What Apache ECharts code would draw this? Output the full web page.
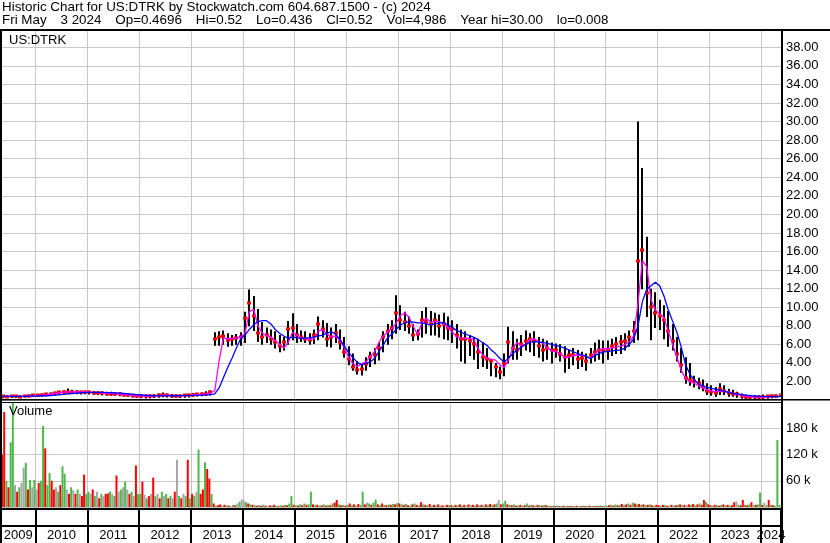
<!DOCTYPE html>
<html><head><meta charset="utf-8">
<script src="https://cdn.jsdelivr.net/npm/echarts@6/dist/echarts.min.js"></script>
<style>html,body{margin:0;padding:0;background:#fff}#c{width:830px;height:543px}</style>
</head><body><div id="c"></div>
<script>
const FONT = '"Liberation Sans", Arial, sans-serif';
// monthly series start: May 2009
const startYear = 2009, startMonth = 5;
const years = [2009,2010,2011,2012,2013,2014,2015,2016,2017,2018,2019,2020,2021,2022,2023,2024];

const high = [
 .55,.50,.52,.48,.50,.55,.60,.62,
 .65,.70,.72,.80,.90,.95,1.05,1.25,1.10,1.05,1.00,1.02,
 1.00,.98,.95,.92,.90,.88,.85,.80,.75,.70,.65,.60,
 .58,.55,.60,.62,.70,.82,.70,.65,.62,.60,.65,.68,
 .75,.72,.80,.95,1.05,7.3,7.4,7.5,7.2,7.0,7.1,7.3,
 9.5,11.9,11.2,9.8,8.4,7.8,7.6,7.4,7.0,6.8,8.5,9.35,
 8.2,7.5,7.4,7.2,7.6,9.0,8.6,8.3,7.8,8.2,7.6,6.8,
 5.8,5.0,4.2,4.0,4.6,5.2,5.6,6.2,7.4,8.2,8.6,11.3,
 10.2,9.5,9.0,8.2,7.6,9.6,10.0,9.6,9.4,9.2,9.4,9.0,
 8.6,8.2,7.6,7.4,7.0,6.8,6.6,6.2,5.6,4.4,4.0,3.6,
 5.0,7.9,7.4,6.6,7.0,7.5,7.2,7.4,6.8,6.6,6.4,6.2,
 6.1,6.0,5.8,5.4,5.6,5.4,5.2,5.0,5.6,6.2,6.5,6.4,
 6.4,6.6,6.8,7.0,7.2,7.5,8.5,30.0,25.0,17.6,12.0,11.6,
 10.8,10.2,9.6,8.2,6.8,5.6,4.6,4.0,2.6,2.4,2.2,1.8,
 1.6,1.4,1.8,1.6,1.2,1.1,0.9,0.7,0.6,0.55,0.5,0.5,
 0.6,0.55,0.6,0.6,0.52
];
const low = [
 .25,.28,.30,.26,.30,.32,.35,.38,
 .40,.42,.45,.50,.55,.62,.70,.72,.70,.68,.66,.68,
 .65,.62,.60,.55,.55,.52,.50,.45,.42,.40,.35,.30,
 .25,.22,.25,.28,.30,.35,.32,.30,.30,.28,.30,.32,
 .40,.42,.45,.50,.55,5.9,5.9,6.0,5.8,5.9,6.0,5.9,
 6.2,8.0,7.5,6.3,6.0,6.2,6.0,5.6,5.2,5.4,6.0,6.5,
 6.2,6.3,6.2,6.0,6.1,6.5,6.8,5.8,5.7,6.2,5.5,4.6,
 3.8,3.2,2.8,2.7,3.2,3.6,3.9,4.3,5.2,6.0,6.6,7.2,
 7.6,7.5,7.2,6.4,6.5,6.8,7.2,7.0,7.0,6.8,6.6,6.5,
 6.2,5.6,4.2,4.0,4.8,4.4,3.4,3.6,3.4,2.6,2.5,2.3,
 2.6,4.0,4.4,4.4,4.8,5.4,5.2,4.8,4.6,4.2,4.4,4.0,
 4.6,4.2,3.0,3.4,3.8,3.4,3.6,3.2,4.0,4.2,4.4,4.0,
 4.4,4.8,5.0,5.0,5.4,5.8,6.2,6.5,12.0,9.0,6.5,7.8,
 7.6,6.6,5.8,5.4,4.2,3.0,1.8,1.6,1.4,1.2,1.0,0.6,
 0.5,0.4,0.6,0.6,0.4,0.4,0.3,0.2,0.15,0.15,0.1,0.1,
 0.15,0.2,0.25,0.3,0.436
];
const close = [
 .40,.35,.42,.38,.36,.45,.48,.50,
 .52,.55,.60,.66,.75,.82,.88,.90,.85,.88,.84,.86,
 .84,.80,.78,.72,.70,.68,.64,.60,.55,.50,.45,.42,
 .40,.38,.42,.45,.50,.55,.50,.48,.46,.45,.50,.52,
 .58,.60,.62,.70,.82,6.6,6.8,6.9,6.5,6.6,6.7,6.8,
 8.8,10.5,9.0,7.2,6.8,7.0,6.6,6.2,5.8,6.2,7.6,7.8,
 7.0,6.8,6.6,6.5,7.0,8.2,7.6,6.6,6.8,7.2,6.2,5.2,
 4.4,3.6,3.2,3.3,3.9,4.6,4.8,5.6,6.8,7.4,7.8,9.4,
 8.6,8.4,8.0,7.0,7.1,8.6,8.4,8.2,8.6,8.0,8.2,7.8,
 7.6,7.0,6.6,6.6,6.4,6.0,5.2,4.6,4.4,4.2,3.6,3.0,
 4.0,6.2,5.6,5.4,6.0,6.4,6.6,6.4,5.8,5.4,5.6,5.4,
 5.4,5.0,4.6,4.8,4.8,4.4,4.5,4.2,4.8,5.2,5.4,5.4,
 5.4,5.8,6.0,6.2,6.4,6.8,7.4,15.0,16.2,11.5,10.0,9.4,
 9.0,8.6,7.4,6.4,5.0,3.8,2.4,2.2,2.0,1.8,1.4,1.0,
 0.9,0.8,1.2,1.0,0.8,0.7,0.6,0.45,0.35,0.3,0.3,0.3,
 0.35,0.4,0.45,0.45,0.52
];
const maFast = [
 .40,.38,.38,.39,.38,.40,.44,.47,
 .50,.53,.57,.62,.70,.78,.84,.88,.87,.86,.86,.86,
 .85,.82,.79,.75,.72,.69,.66,.62,.57,.52,.48,.44,
 .42,.40,.40,.43,.47,.51,.51,.49,.47,.46,.48,.50,
 .55,.58,.60,.66,.75,1.0,4.2,6.7,6.6,6.6,6.7,6.8,
 7.2,9.5,9.8,8.0,7.2,6.9,6.8,6.4,6.0,5.6,6.2,7.3,
 7.0,6.7,6.6,6.5,6.6,7.4,7.6,7.1,6.8,6.9,6.4,5.6,
 4.6,3.9,3.6,3.9,4.1,4.7,5.2,6.2,6.9,7.3,7.7,8.3,
 9.1,9.4,8.9,7.9,7.0,8.4,8.8,8.4,8.45,8.45,8.2,7.8,
 7.3,6.8,6.7,6.65,6.65,6.5,5.5,4.9,4.5,4.4,4.3,3.8,
 3.5,4.3,5.6,6.2,5.8,6.0,6.5,6.6,6.3,6.1,5.6,5.3,
 5.2,5.0,4.6,4.6,4.8,4.85,4.8,4.7,4.5,5.0,5.4,5.5,
 5.55,5.6,5.7,5.8,6.0,6.3,6.9,10.5,15.0,14.4,10.8,9.7,
 9.3,8.9,7.4,6.0,4.6,3.2,2.3,2.0,1.8,1.55,1.3,1.1,
 .95,.9,.95,.95,.85,.7,.6,.48,.4,.35,.32,.3,
 .3,.32,.36,.4,.42
];
const maSlow = [
 .42,.41,.40,.40,.40,.40,.41,.42,
 .43,.44,.46,.48,.52,.56,.60,.65,.70,.74,.78,.80,
 .82,.83,.83,.82,.80,.78,.76,.73,.70,.66,.62,.58,
 .54,.51,.48,.46,.45,.45,.45,.46,.46,.47,.47,.48,
 .49,.50,.52,.55,.58,.65,1.3,2.4,3.5,4.5,5.6,6.6,
 7.0,7.6,8.1,8.45,8.55,8.55,8.2,7.6,7.2,6.9,6.65,6.8,
 6.7,6.65,6.7,6.7,6.8,6.9,7.0,7.2,7.35,7.1,6.5,5.8,
 5.1,4.55,4.05,3.8,3.95,4.1,4.5,5.2,5.9,6.7,7.1,7.6,
 8.1,8.3,8.45,8.4,8.3,8.3,8.2,8.1,8.2,8.3,8.3,8.1,
 7.8,7.5,7.3,7.1,6.95,6.75,6.5,6.2,5.9,5.4,5.0,4.5,
 4.1,4.5,5.0,5.35,5.7,6.0,6.2,6.3,6.25,6.2,6.1,6.0,
 5.85,5.75,5.6,5.4,5.2,5.0,4.85,4.7,4.45,4.8,5.0,5.2,
 5.25,5.3,5.35,5.4,5.6,6.0,6.6,8.0,10.6,11.9,12.3,12.7,
 12.3,11.2,9.7,8.5,7.3,5.7,3.8,2.8,2.15,1.75,1.5,1.35,
 1.25,1.15,1.05,.95,.8,.72,.65,.58,.52,.47,.43,.4,
 .38,.37,.36,.36,.36
];
// half-monthly volume in thousands; first letter = r (down), g (up), s (unchanged)
const volume = [
 'r120','r217','g60','r45','g148','g260','s50','r35','g45','s55','s90','g101','r40','g62','s45','g62',
 's40','r55','g60','g185','r134','g50','g78','r60','r40','s45','g35','r50','g93','g76','s40','r30','g45','s38','r30','g40','s30','r25','r74','g30',
 'g35','s30','r40','g25','s35','r20','g30','s25','r30','r31','g35','s30','g25','r72','s35','g40','s45','g58','s40','r30','g35','s25','r95','g30',
 'g30','r58','s28','g20','r25','s30','r67','g25','s30','r20','g35','s25','g30','r20','g25','s20','r35','s108','g25','r20','s30','g25','r108','g20',
 'r30','g25','s35','g131','r30','r40','g102','r87','r65','g30','r8','g3','r4','r6','g3','r5','g4','r3','s2','g5','r4','s8','g12','s17',
 's15','g11','r8','g6','r5','g4','r3','g4','r3','g5','r3','s2','r4','g3','r5','g3','r2','g4','r3','g5','r4','g8','g25','r5',
 'g4','r3','g6','r4','g8','r5','g6','g35','r6','g4','r5','g3','r4','g6','r3','g5','r4','g8','r10','r16','g6','r4','g5','r3',
 'g5','r8','g4','r6','g3','r7','g5','g35','r6','s10','g8','r5','g10','g17','r6','g4','r8','g5','r4','g6','r5','g7','r6','g9',
 'r8','g6','r5','g7','r4','g3','r6','g8','r5','g4','r11','g6','r5','g4','r7','g3','r5','g4','r6','g3','r4','s3','r5','g4',
 'r4','g3','r5','g4','r6','g3','r5','s4','r6','g4','r5','g3','r6','g4','r5','g3','r6','g4','r7','g5','r6','g8','s16','r6',
 'g8','g14','r6','g5','r4','g6','r3','g4','r5','g3','r4','g8','r3','g5','r4','g3','r5','g4','r3','g5','r4','g3','r2','g3',
 'r2','g3','r2','g2','r3','g2','r2','g3','r2','g2','r3','g2','r2','g3','r2','g2','r3','g2','r2','g3','r2','g4','r2','g3',
 'g3','r4','g5','r3','g6','r4','g5','r7','g4','r6','g8','r5','g10','r8','g6','r7','g5','r6','g4','r5','g6','r4','g3','r5',
 'r4','g3','r5','g4','r3','s4','r5','g3','r4','g5','r6','g4','r5','s4','r6','g5','r7','g4','r6','g8','r5','r16','g12','r6',
 'r4','g3','r5','g4','r3','g5','r6','g4','r5','g3','r4','r11','s13','g5','r4','r16','g5','r4','g6','r11','g4','r5','g6','g33',
 'r5','s10','g4','r16','g5','r4','g3','g153','g5'
];
const priceTicks = [2,4,6,8,10,12,14,16,18,20,22,24,26,28,30,32,34,36,38];
const volTicks = [60000,120000,180000];
const headerFields = ['Fri May', '3 2024', 'Op=0.4696', 'Hi=0.52', 'Lo=0.436', 'Cl=0.52', 'Vol=4,986', 'Year hi=30.00', 'lo=0.008'];

const monthT = i => startYear + (startMonth - 1 + i + 0.5) / 12;
const halfT = i => startYear + (startMonth - 1) / 12 + (i + 0.5) / 24;

const priceData = high.map((h, i) => [monthT(i), low[i], h, close[i]]);
const fastData = maFast.map((v, i) => [monthT(i), v]);
const slowData = maSlow.map((v, i) => [monthT(i), v]);
const volColors = { r: '#ff0000', g: '#4cb84c', s: '#a6a6a6' };
const volData = volume.map((s, i) => ({ value: [halfT(i), +s.slice(1) * 1000], itemStyle: { color: volColors[s[0]] } }));

const X_MIN = 2009, X_MAX = 2024.383;
const GL = -16.33, GW = 797.33;
const gridLine = { show: true, lineStyle: { color: '#c8c8c8', width: 1 } };
const GAP = '\u00a0\u00a0\u00a0\u2009';
const hdr2 = headerFields.join(GAP);

const chart = echarts.init(document.getElementById('c'), null, { renderer: 'canvas' });
const xBase = (gi, split) => ({
  type: 'value', gridIndex: gi, min: X_MIN, max: X_MAX, interval: 1,
  axisLine: { show: false }, axisTick: { show: false }, axisLabel: { show: false },
  splitLine: split
});
const frame = (x, y, w, h) => ({ type: 'rect', z: 100, silent: true, shape: { x, y, width: w, height: h }, style: { fill: '#000' } });
const txt = (x, y, t, fs) => ({ type: 'text', z: 100, x, y, style: { text: t, fill: '#000', font: (fs || 13) + 'px ' + FONT, verticalAlign: 'top' } });

chart.setOption({
  animation: false,
  backgroundColor: '#fff',
  grid: [
    { left: GL, top: 30, width: GW, height: 370, outerBoundsMode: 'none', containLabel: false },
    { left: GL, top: 402, width: GW, height: 105, outerBoundsMode: 'none', containLabel: false },
    { left: GL, top: 509, width: GW, height: 34, outerBoundsMode: 'none', containLabel: false }
  ],
  xAxis: [
    xBase(0, gridLine),
    xBase(1, gridLine),
    xBase(2, { show: true, lineStyle: { color: '#000', width: 2 } })
  ],
  yAxis: [
    { type: 'value', gridIndex: 0, position: 'right', min: 0, max: 39.87, interval: 2,
      axisLine: { show: false }, axisTick: { show: false },
      axisLabel: { margin: 5, color: '#000', fontSize: 13, fontFamily: FONT,
        formatter: v => priceTicks.indexOf(v) >= 0 ? v.toFixed(2) : '' },
      splitLine: gridLine },
    { type: 'value', gridIndex: 1, position: 'right', min: 0, max: 240000, interval: 60000,
      axisLine: { show: false }, axisTick: { show: false },
      axisLabel: { margin: 5, color: '#000', fontSize: 13, fontFamily: FONT,
        formatter: v => volTicks.indexOf(v) >= 0 ? (v / 1000) + ' k' : '' },
      splitLine: gridLine },
    { type: 'value', gridIndex: 2, min: 0, max: 1, show: false }
  ],
  series: [
    { type: 'custom', xAxisIndex: 0, yAxisIndex: 0, clip: true, data: priceData, z: 2,
      renderItem: (params, api) => {
        const t = api.value(0);
        const pLo = api.coord([t, api.value(1)]);
        const pHi = api.coord([t, api.value(2)]);
        const pCl = api.coord([t, api.value(3)]);
        const x = Math.round(pLo[0]);
        return { type: 'group', children: [
          { type: 'line', shape: { x1: x, y1: pLo[1] + 0.5, x2: x, y2: Math.min(pHi[1], pLo[1] - 1.5) }, style: { stroke: '#000', lineWidth: 2 } },
          { type: 'rect', shape: { x: x - 2, y: Math.round(pCl[1]) - 1.5, width: 4, height: 3 }, style: { fill: '#ff0000' } }
        ] };
      } },
    { type: 'line', xAxisIndex: 0, yAxisIndex: 0, data: fastData, showSymbol: false, z: 3,
      lineStyle: { color: '#ff00ff', width: 1.3 } },
    { type: 'line', xAxisIndex: 0, yAxisIndex: 0, data: slowData, showSymbol: false, z: 4,
      lineStyle: { color: '#0000ff', width: 1.3 } },
    { type: 'bar', xAxisIndex: 1, yAxisIndex: 1, data: volData, barWidth: 2, barGap: '0%' },
    { type: 'custom', xAxisIndex: 2, yAxisIndex: 2, clip: false, data: years.map(y => [y]),
      renderItem: (params, api) => {
        const yr = api.value(0);
        const cs = params.coordSys;
        const x0 = Math.max(api.coord([yr, 0])[0], 1);
        const x1 = Math.min(api.coord([yr + 1, 0])[0], cs.x + cs.width);
        return { type: 'text', style: { text: String(yr), x: (x0 + x1) / 2, y: cs.y + 26,
          align: 'center', verticalAlign: 'middle', fill: '#000', font: '13px ' + FONT } };
      } }
  ],
  graphic: [
    txt(2, 1, 'Historic Chart for US:DTRK by Stockwatch.com 604.687.1500 - (c) 2024', 13.4),
    txt(2, 14, hdr2, 13.4),
    txt(9, 34, 'US:DTRK'),
    txt(9, 405, 'Volume'),
    frame(0, 29, 830, 2),
    frame(0, 29, 2, 514),
    frame(781, 29, 2, 514),
    frame(0, 399, 830, 1.5),
    frame(0, 402, 783, 1),
    frame(0, 508, 783, 2),
    frame(0, 525, 783, 2)
  ]
});
</script></body></html>
